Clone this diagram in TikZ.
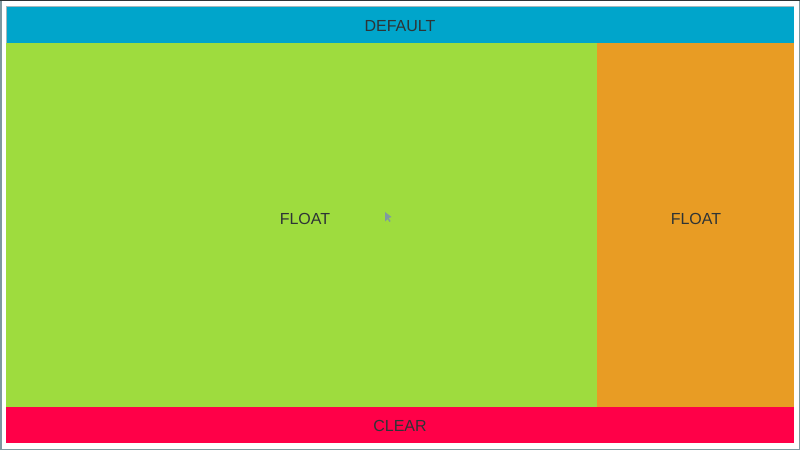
\documentclass[tikz,border=0pt]{standalone}
\usepackage{fontspec}
\setmainfont{Liberation Sans}
\usepackage{tikz}
\usetikzlibrary{positioning,calc}
\definecolor{barblue}{HTML}{00A5CB}
\definecolor{floatgreen}{HTML}{9EDC3E}
\definecolor{floatorange}{HTML}{E89C24}
\definecolor{clearred}{HTML}{FF0048}
\definecolor{ink}{HTML}{2E3436}
\definecolor{edge}{HTML}{7F99A0}

\begin{document}
\begin{tikzpicture}[x=1pt,y=1pt,every node/.style={font=\fontsize{16}{18}\selectfont,text=ink}]
\tikzset{
  area/.style={draw=none,inner sep=0pt,outer sep=0pt,anchor=north west}
}
\useasboundingbox (0,0) rectangle (800,450);
\fill[white] (0,0) rectangle (800,450);
\draw[edge,line width=1.5pt] (0.75,0.75) rectangle (799.25,449.25);
\draw[ink,line width=1.5pt] (0,449.25)--(800,449.25);
% the four areas
\node[area,fill=barblue,minimum width=788pt,minimum height=37pt] (default) at (6,444) {};
\node[area,fill=floatgreen,minimum width=591pt,minimum height=364pt] (floatl) at (6,407) {};
\node[area,fill=floatorange,minimum width=197pt,minimum height=364pt] (floatr) at (597,407) {};
\node[area,fill=clearred,minimum width=788pt,minimum height=36pt] (clear) at (6,43) {};
\draw[edge!70,line width=0.7pt] (default.south west)--(default.north west)--(default.north east);
% labels
\node (tdefault) at ($(default.center)+(0,-1.5)$) {DEFAULT};
\node (tfloatl) at ($(floatl.center)+(3.5,6)$) {FLOAT};
\node (tfloatr) at ($(floatr.center)+(0.5,6)$) {FLOAT};
\node (tclear) at ($(clear.center)+(0,-1)$) {CLEAR};
% pointer
\fill[edge] (385,238)--(385,228.5)--(387.5,231)--(389.5,228)--(390.5,229)--(388.5,232)--(391.5,233)--cycle;
\end{tikzpicture}
\end{document}
